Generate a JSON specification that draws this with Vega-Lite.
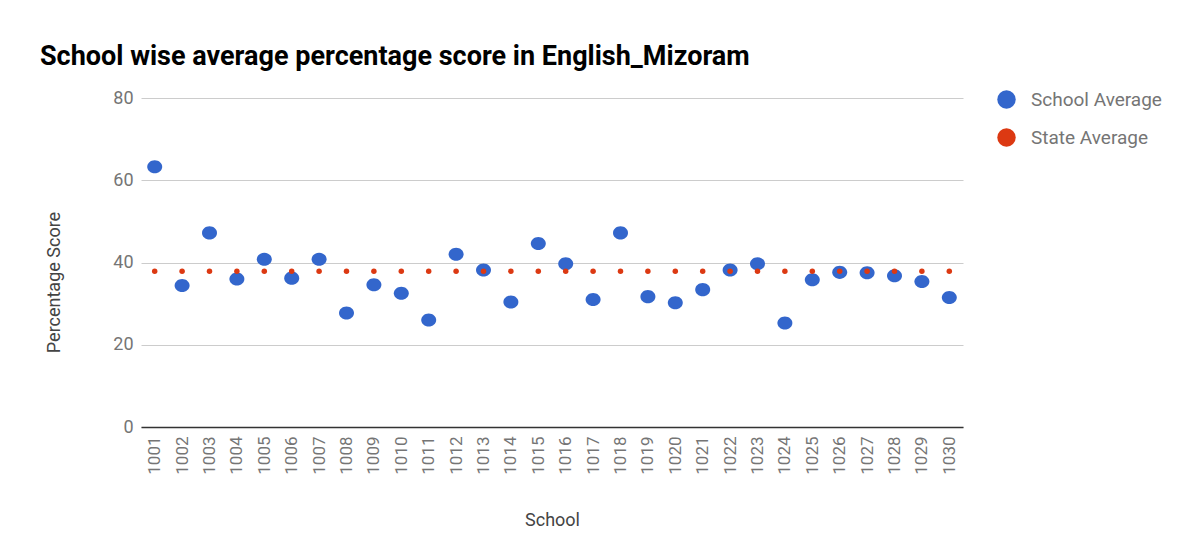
{
  "$schema": "https://vega.github.io/schema/vega-lite/v6.json",
  "width": 822,
  "height": 329,
  "autosize": "none",
  "padding": {"left": 141, "top": 98, "right": 229, "bottom": 125},
  "background": "white",
  "title": {
    "text": "School wise average percentage score in English_Mizoram",
    "anchor": "start",
    "frame": "group",
    "dx": -101,
    "offset": -3,
    "baseline": "alphabetic",
    "font": "Roboto",
    "fontSize": 27,
    "fontWeight": "bold",
    "color": "#000000"
  },
  "data": {
    "values": [
      {"school": "1001", "series": "School Average", "score": 63.3},
      {"school": "1002", "series": "School Average", "score": 34.4},
      {"school": "1003", "series": "School Average", "score": 47.2},
      {"school": "1004", "series": "School Average", "score": 36.0},
      {"school": "1005", "series": "School Average", "score": 40.8},
      {"school": "1006", "series": "School Average", "score": 36.2},
      {"school": "1007", "series": "School Average", "score": 40.8},
      {"school": "1008", "series": "School Average", "score": 27.7},
      {"school": "1009", "series": "School Average", "score": 34.6},
      {"school": "1010", "series": "School Average", "score": 32.5},
      {"school": "1011", "series": "School Average", "score": 26.0},
      {"school": "1012", "series": "School Average", "score": 42.0},
      {"school": "1013", "series": "School Average", "score": 38.2},
      {"school": "1014", "series": "School Average", "score": 30.4},
      {"school": "1015", "series": "School Average", "score": 44.6},
      {"school": "1016", "series": "School Average", "score": 39.7},
      {"school": "1017", "series": "School Average", "score": 31.0},
      {"school": "1018", "series": "School Average", "score": 47.2},
      {"school": "1019", "series": "School Average", "score": 31.7},
      {"school": "1020", "series": "School Average", "score": 30.2},
      {"school": "1021", "series": "School Average", "score": 33.4},
      {"school": "1022", "series": "School Average", "score": 38.2},
      {"school": "1023", "series": "School Average", "score": 39.7},
      {"school": "1024", "series": "School Average", "score": 25.3},
      {"school": "1025", "series": "School Average", "score": 35.8},
      {"school": "1026", "series": "School Average", "score": 37.6},
      {"school": "1027", "series": "School Average", "score": 37.5},
      {"school": "1028", "series": "School Average", "score": 36.8},
      {"school": "1029", "series": "School Average", "score": 35.4},
      {"school": "1030", "series": "School Average", "score": 31.5},
      {"school": "1001", "series": "State Average", "score": 37.9},
      {"school": "1002", "series": "State Average", "score": 37.9},
      {"school": "1003", "series": "State Average", "score": 37.9},
      {"school": "1004", "series": "State Average", "score": 37.9},
      {"school": "1005", "series": "State Average", "score": 37.9},
      {"school": "1006", "series": "State Average", "score": 37.9},
      {"school": "1007", "series": "State Average", "score": 37.9},
      {"school": "1008", "series": "State Average", "score": 37.9},
      {"school": "1009", "series": "State Average", "score": 37.9},
      {"school": "1010", "series": "State Average", "score": 37.9},
      {"school": "1011", "series": "State Average", "score": 37.9},
      {"school": "1012", "series": "State Average", "score": 37.9},
      {"school": "1013", "series": "State Average", "score": 37.9},
      {"school": "1014", "series": "State Average", "score": 37.9},
      {"school": "1015", "series": "State Average", "score": 37.9},
      {"school": "1016", "series": "State Average", "score": 37.9},
      {"school": "1017", "series": "State Average", "score": 37.9},
      {"school": "1018", "series": "State Average", "score": 37.9},
      {"school": "1019", "series": "State Average", "score": 37.9},
      {"school": "1020", "series": "State Average", "score": 37.9},
      {"school": "1021", "series": "State Average", "score": 37.9},
      {"school": "1022", "series": "State Average", "score": 37.9},
      {"school": "1023", "series": "State Average", "score": 37.9},
      {"school": "1024", "series": "State Average", "score": 37.9},
      {"school": "1025", "series": "State Average", "score": 37.9},
      {"school": "1026", "series": "State Average", "score": 37.9},
      {"school": "1027", "series": "State Average", "score": 37.9},
      {"school": "1028", "series": "State Average", "score": 37.9},
      {"school": "1029", "series": "State Average", "score": 37.9},
      {"school": "1030", "series": "State Average", "score": 37.9}
    ]
  },
  "encoding": {
    "x": {
      "field": "school",
      "type": "nominal",
      "title": "School",
      "axis": {
        "labelAngle": 270,
        "labelPadding": 9,
        "labelFont": "Roboto",
        "labelFontSize": 17,
        "labelColor": "#757575",
        "ticks": false,
        "domainColor": "#333333",
        "domainWidth": 1.5,
        "titleFont": "Roboto",
        "titleFontSize": 18,
        "titleFontWeight": "normal",
        "titleColor": "#444444",
        "titleBaseline": "alphabetic",
        "titleY": 98
      }
    },
    "y": {
      "field": "score",
      "type": "quantitative",
      "title": "Percentage Score",
      "scale": {"domain": [0, 80], "nice": false},
      "axis": {
        "values": [0, 20, 40, 60, 80],
        "domain": false,
        "ticks": false,
        "grid": true,
        "gridColor": "#cccccc",
        "labelPadding": 8,
        "labelFont": "Roboto",
        "labelFontSize": 18,
        "labelColor": "#757575",
        "titleFont": "Roboto",
        "titleFontSize": 18,
        "titleFontWeight": "normal",
        "titleColor": "#444444",
        "titleAngle": 270,
        "titleBaseline": "alphabetic",
        "titleX": -82,
        "titleY": 184
      }
    },
    "color": {
      "field": "series",
      "type": "nominal",
      "scale": {"domain": ["School Average", "State Average"], "range": ["#3366cc", "#dc3912"]},
      "legend": {
        "title": null,
        "orient": "none",
        "legendX": 856,
        "legendY": -8,
        "padding": 0,
        "symbolType": "circle",
        "symbolSize": 340,
        "symbolStrokeWidth": 0,
        "symbolOpacity": 1,
        "labelFont": "Roboto",
        "labelFontSize": 19,
        "labelColor": "#757575",
        "labelOffset": 15,
        "rowPadding": 18
      }
    }
  },
  "layer": [
    {
      "transform": [{"filter": "datum.series === 'School Average'"}],
      "mark": {
        "type": "point",
        "filled": true,
        "opacity": 1,
        "size": 225,
        "shape": "M-1,0A1,0.87,0,1,1,1,0A1,0.87,0,1,1,-1,0Z"
      }
    },
    {
      "transform": [{"filter": "datum.series === 'State Average'"}],
      "mark": {
        "type": "point",
        "filled": true,
        "opacity": 1,
        "size": 30,
        "shape": "circle"
      }
    }
  ],
  "config": {
    "view": {"stroke": null},
    "font": "Roboto"
  }
}
